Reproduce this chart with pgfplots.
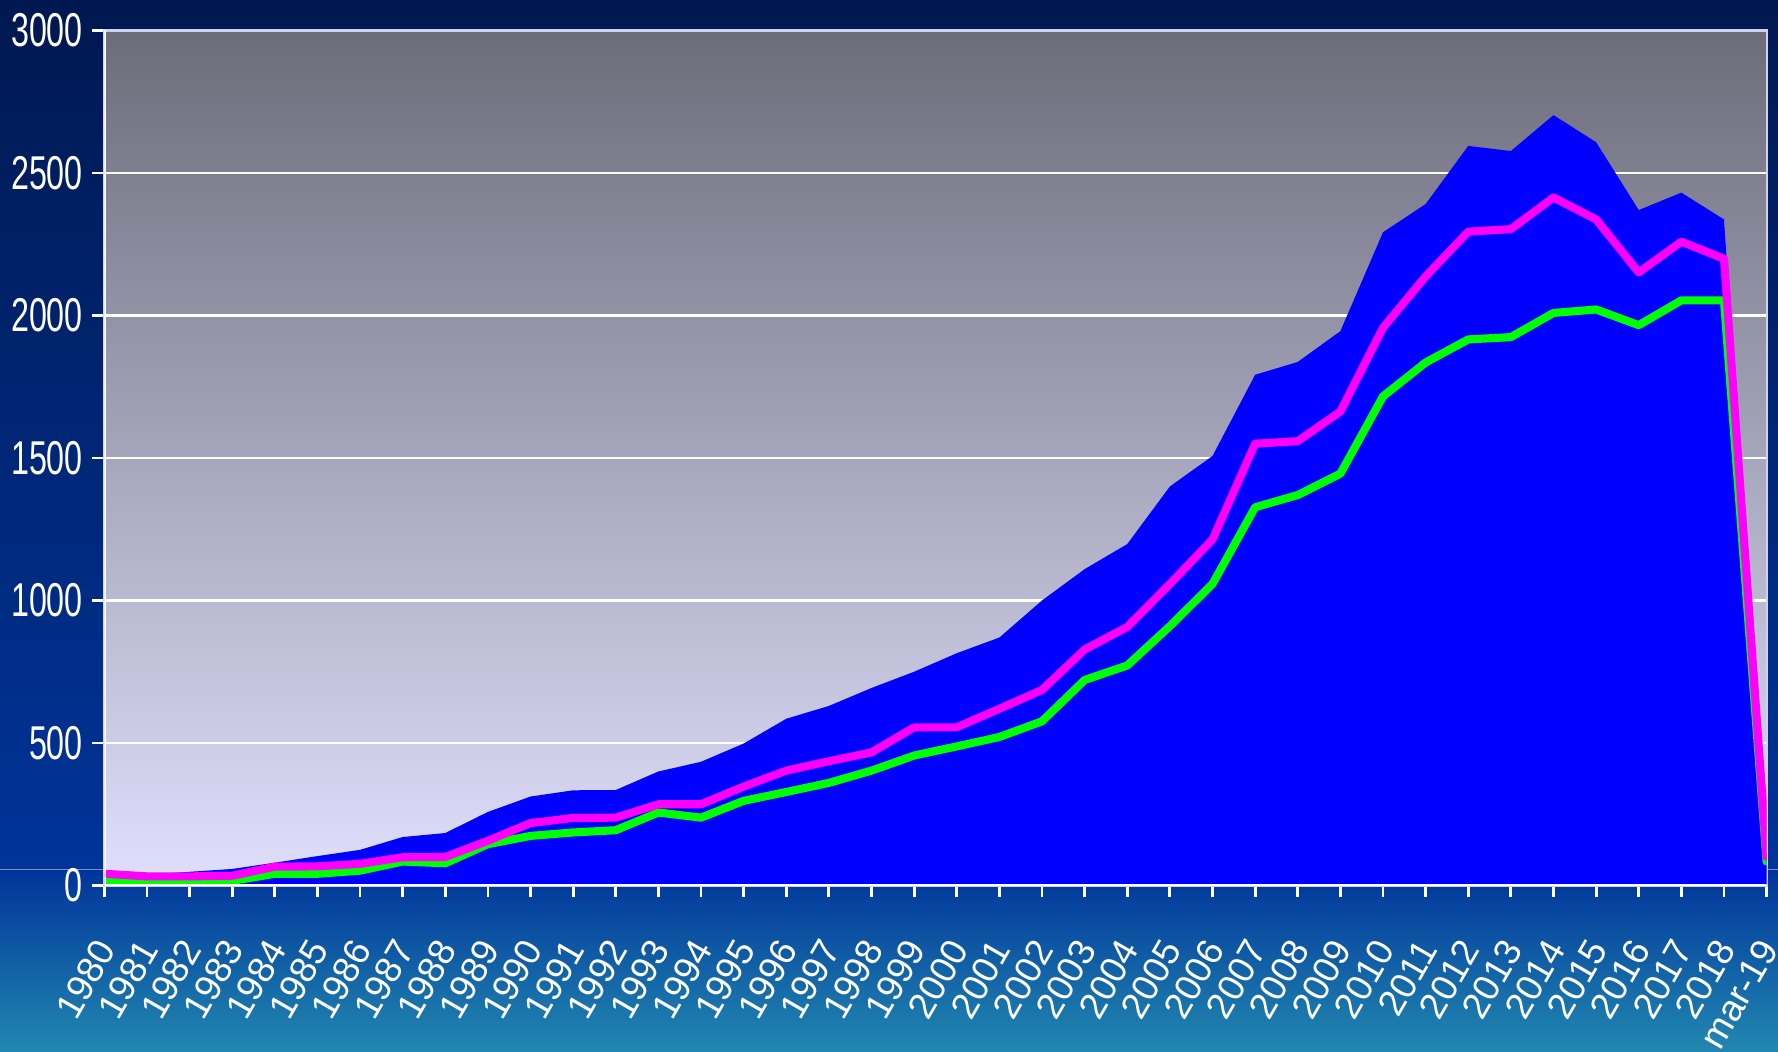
\documentclass[border=0pt]{standalone}
\usepackage{pgfplots}
\pgfplotsset{compat=1.18}
\usepackage{fontspec}
\setmainfont{Liberation Sans}
\newfontfamily\narrowfont{Liberation Sans}[FakeStretch=0.68]
\definecolor{bgtop}{HTML}{001850}
\definecolor{bgmid}{HTML}{00349A}
\definecolor{bgbot}{HTML}{2288B0}
\definecolor{plottop}{HTML}{6C6C7A}
\definecolor{plotbot}{HTML}{E0E0FD}
\definecolor{framec}{HTML}{D0D0F0}
\definecolor{hlinec}{HTML}{8090C4}
\definecolor{areablue}{HTML}{0000FF}
\definecolor{magline}{HTML}{FF00FF}
\definecolor{grnline}{HTML}{00FF00}
\begin{document}
\begin{tikzpicture}
\useasboundingbox (0,0) rectangle (17.78,10.52);
\fill[top color=bgtop,bottom color=bgmid] (0,1.82) rectangle (17.78,10.52);
\fill[top color=bgmid,bottom color=bgbot] (0,0) rectangle (17.78,1.82);
\draw[hlinec, line width=0.1mm] (0,1.82) -- (17.78,1.82);
\begin{axis}[
  at={(1.043cm,1.665cm)}, anchor=south west,
  scale only axis, width=16.623cm, height=8.55cm,
  xmin=0, xmax=39, ymin=0, ymax=3000,
  axis background/.style={top color=plottop, bottom color=plotbot},
  axis line style={draw=framec, line width=0.6pt},
  ytick={0,500,1000,1500,2000,2500,3000},
  yticklabels={0,500,1000,1500,2000,2500,3000},
  xtick={0,...,39},
  xticklabels={1980,1981,1982,1983,1984,1985,1986,1987,1988,1989,1990,1991,1992,1993,1994,1995,1996,1997,1998,1999,2000,2001,2002,2003,2004,2005,2006,2007,2008,2009,2010,2011,2012,2013,2014,2015,2016,2017,2018,mar-19},
  ymajorgrids, grid style={white, line width=0.8pt},
  tick align=outside, xtick pos=left, ytick pos=left,
  major tick length=1.2mm,
  tick style={white, line width=0.8pt},
  yticklabel style={font=\narrowfont\fontsize{13.5}{13.5}\selectfont, text=white, xshift=0.3mm},
  xticklabel style={font=\fontsize{10.5}{10.5}\selectfont, text=white, xshift=0.8mm, yshift=-3.55mm, rotate=60, anchor=east},
]
\addplot[fill=areablue, draw=none] coordinates {
(0,40) (1,38) (2,48) (3,58) (4,80) (5,103) (6,125) (7,170) (8,184) (9,258)
(10,312) (11,334) (12,335) (13,400) (14,434) (15,498) (16,585) (17,630) (18,693) (19,750)
(20,815) (21,870) (22,1000) (23,1110) (24,1198) (25,1400) (26,1507) (27,1792) (28,1837) (29,1945)
(30,2292) (31,2391) (32,2595) (33,2577) (34,2703) (35,2608) (36,2370) (37,2431) (38,2337) (39,100)
} \closedcycle;
\addplot[grnline, line width=2.3pt, line join=round, line cap=round] coordinates {
(0,20) (1,11) (2,11) (3,16) (4,41) (5,41) (6,52) (7,84) (8,78) (9,145)
(10,174) (11,186) (12,194) (13,256) (14,238) (15,297) (16,328) (17,360) (18,403) (19,456)
(20,488) (21,521) (22,576) (23,721) (24,772) (25,910) (26,1058) (27,1327) (28,1370) (29,1445)
(30,1716) (31,1835) (32,1916) (33,1924) (34,2009) (35,2021) (36,1966) (37,2053) (38,2053) (39,84)
};
\addplot[magline, line width=2.3pt, line join=round, line cap=round] coordinates {
(0,41) (1,32) (2,32) (3,34) (4,66) (5,67) (6,76) (7,99) (8,100) (9,157)
(10,219) (11,237) (12,238) (13,285) (14,285) (15,347) (16,403) (17,436) (18,467) (19,555)
(20,555) (21,620) (22,686) (23,828) (24,907) (25,1058) (26,1214) (27,1550) (28,1559) (29,1663)
(30,1957) (31,2137) (32,2294) (33,2303) (34,2414) (35,2337) (36,2151) (37,2259) (38,2199) (39,100)
};
\draw[white, line width=0.9pt] (rel axis cs:0,0) -- (rel axis cs:1,0);
\draw[white, line width=0.7pt] (rel axis cs:0,0) -- (rel axis cs:0,1);
\end{axis}
\end{tikzpicture}
\end{document}
